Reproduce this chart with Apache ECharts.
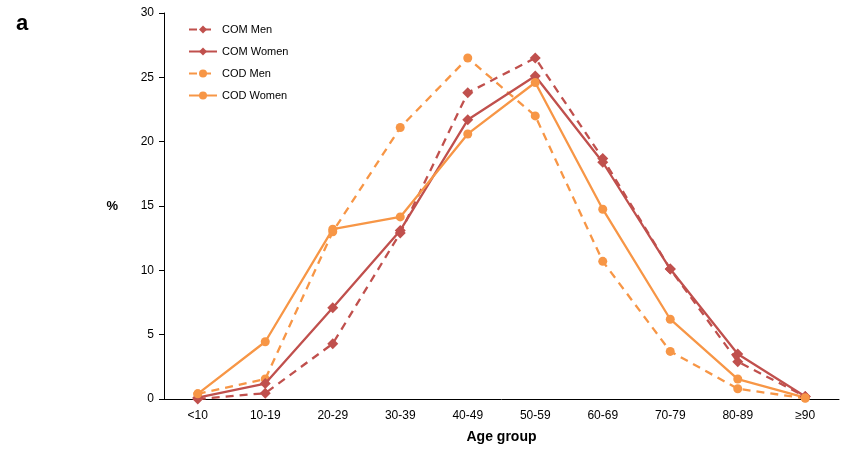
<!DOCTYPE html>
<html><head><meta charset="utf-8">
<script src="https://cdn.jsdelivr.net/npm/echarts@6/dist/echarts.min.js"></script>
<style>html,body{margin:0;padding:0;background:#fff}#c{width:845px;height:450px}</style>
</head><body><div id="c"></div>
<script>
const categories = ['<10','10-19','20-29','30-39','40-49','50-59','60-69','70-79','80-89','≥90'];
const comMen   = [0.0, 0.45, 4.3, 12.9, 23.8, 26.5, 18.7, 10.1, 2.9, 0.2];
const comWomen = [0.1, 1.2, 7.1, 13.1, 21.7, 25.1, 18.4, 10.1, 3.5, 0.2];
const codMen   = [0.4, 1.55, 13.0, 21.1, 26.5, 22.0, 10.7, 3.7, 0.8, 0.05];
const codWomen = [0.4, 4.45, 13.2, 14.15, 20.6, 24.6, 14.75, 6.2, 1.55, 0.1];
const yTicks = [0, 30, 5];

const RED = '#c0504d', ORANGE = '#f79646';
function mk(name, data, color, dashed, symbol, size) {
  return {
    name, type: 'line', data, symbol, symbolSize: size,
    lineStyle: { color, width: 2.3, type: dashed ? [8, 6] : 'solid' },
    itemStyle: { color },
    z: dashed ? 2 : 3
  };
}
const chart = echarts.init(document.getElementById('c'));
chart.setOption({
  animation: false,
  textStyle: { fontFamily: 'Liberation Sans, Arial, sans-serif' },
  grid: { left: 164, right: 6, top: 13, bottom: 51 },
  title: { text: 'a', left: 11, top: 8, textStyle: { fontSize: 22, fontWeight: 'bold', color: '#000' } },
  legend: {
    orient: 'vertical', left: 183, top: 19, itemGap: 11, itemWidth: 28, itemHeight: 10,
    textStyle: { fontSize: 11, color: '#000' },
    data: ['COM Men', 'COM Women', 'COD Men', 'COD Women']
  },
  xAxis: {
    type: 'category', data: categories, boundaryGap: true,
    axisLine: { lineStyle: { color: '#000', width: 1 } },
    axisTick: { show: false },
    axisLabel: { color: '#000', fontSize: 12, margin: 11 },
    name: 'Age group', nameLocation: 'middle', nameGap: 31,
    nameTextStyle: { fontSize: 14, fontWeight: 'bold', color: '#000' }
  },
  yAxis: {
    type: 'value', min: yTicks[0], max: yTicks[1], interval: yTicks[2],
    axisLine: { show: true, lineStyle: { color: '#000', width: 1 } },
    axisTick: { show: true, length: 5, lineStyle: { color: '#000' } },
    splitLine: { show: false },
    axisLabel: { color: '#000', fontSize: 12, margin: 10 },
    name: '%', nameLocation: 'middle', nameGap: 46, nameRotate: 0,
    nameTextStyle: { fontSize: 13, fontWeight: 'bold', color: '#000' }
  },
  series: [
    mk('COM Men', comMen, RED, true, 'diamond', 11),
    mk('COM Women', comWomen, RED, false, 'diamond', 11),
    mk('COD Men', codMen, ORANGE, true, 'circle', 9),
    mk('COD Women', codWomen, ORANGE, false, 'circle', 9)
  ]
});
</script></body></html>
